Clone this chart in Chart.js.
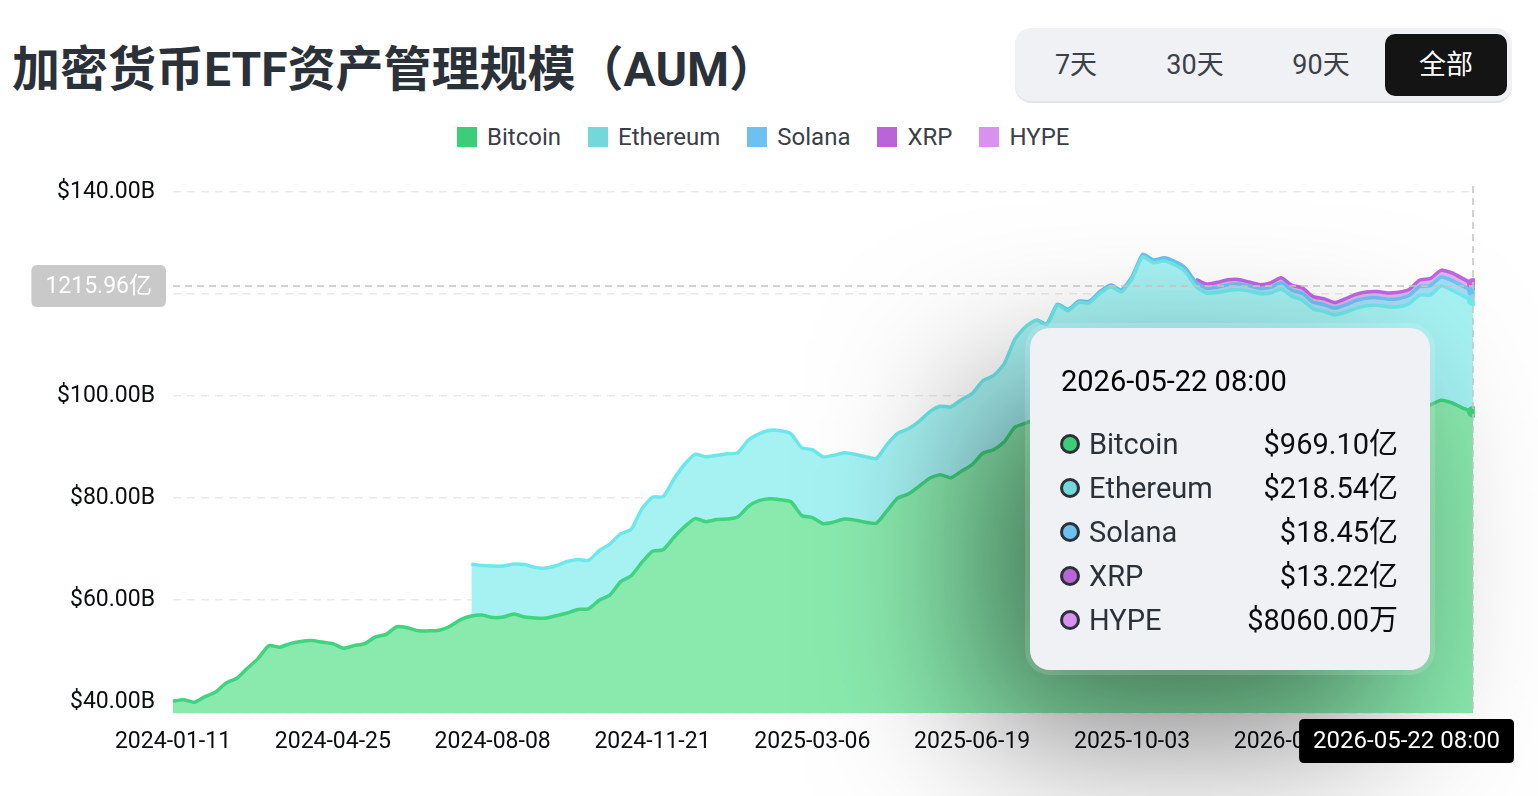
<!DOCTYPE html>
<html>
<head>
<meta charset="utf-8">
<script src="https://cdn.jsdelivr.net/npm/chart.js@4.4.1/dist/chart.umd.min.js"></script>
<style>
html,body{margin:0;padding:0;background:#fff;}
body{width:1538px;height:796px;overflow:hidden;position:relative;font-family:Roboto,"Noto Sans CJK SC",sans-serif;}
#title{position:absolute;left:12px;top:46px;font-size:48px;line-height:48px;font-weight:700;color:#2b3139;white-space:nowrap;}
#range{position:absolute;left:1015px;top:28px;width:497px;height:73px;background:#f0f1f5;border-radius:16px;box-shadow:0 2px 0 #e4e5e8;}
.rb{position:absolute;top:6px;width:110px;height:62px;line-height:62px;font-size:27px;color:#3c4148;text-align:center;}
.rb.active{width:122px;background:#141414;color:#fff;border-radius:10px;}
#legend{position:absolute;left:457px;top:123px;display:flex;align-items:center;height:28px;}
.li{display:flex;align-items:center;margin-right:27px;font-size:24px;line-height:28px;color:#3b4048;}
.sw{width:20px;height:20px;margin-right:10px;}
#chartBox{position:absolute;left:0;top:160px;width:1538px;height:636px;}
#tip{position:absolute;display:none;width:400px;height:342px;background:#f0f1f5;border-radius:20px;
  box-shadow:0 0 0 5px rgba(255,255,255,0.14);}
#tip .tt{position:absolute;left:31px;top:36px;line-height:34px;font-size:29px;color:#000;white-space:nowrap;}
#tip .row{position:absolute;left:0;width:400px;height:34px;line-height:34px;font-size:29px;}
#tip .dot{position:absolute;left:30px;top:7px;width:20px;height:20px;box-sizing:border-box;border:3.5px solid #2b3139;border-radius:50%;}
#tip .lab{position:absolute;left:59px;top:0;color:#2b3139;}
#tip .val{position:absolute;right:32px;top:0;color:#0b0e11;}
</style>
</head>
<body>
<div id="title">加密货币ETF资产管理规模（AUM）</div>
<div id="range">
  <div class="rb" style="left:6px">7天</div>
  <div class="rb" style="left:125px">30天</div>
  <div class="rb" style="left:251px">90天</div>
  <div class="rb active" style="left:370px">全部</div>
</div>
<div id="legend"></div>
<div id="chartBox"><canvas id="c" width="1538" height="636"></canvas></div>
<div id="tip"></div>
<script>
// ---------- data ----------
const labels = [
 '2024-01-11','2024-01-18','2024-01-25','2024-02-01','2024-02-08','2024-02-15','2024-02-22','2024-02-29','2024-03-07','2024-03-14',
 '2024-03-21','2024-03-28','2024-04-04','2024-04-11','2024-04-18','2024-04-25','2024-05-02','2024-05-09','2024-05-16','2024-05-23',
 '2024-05-30','2024-06-06','2024-06-13','2024-06-20','2024-06-27','2024-07-04','2024-07-11','2024-07-18','2024-07-25','2024-08-01',
 '2024-08-08','2024-08-15','2024-08-22','2024-08-29','2024-09-05','2024-09-12','2024-09-19','2024-09-26','2024-10-03','2024-10-10',
 '2024-10-17','2024-10-24','2024-10-31','2024-11-07','2024-11-14','2024-11-21','2024-11-28','2024-12-05','2024-12-12','2024-12-19',
 '2024-12-26','2025-01-02','2025-01-09','2025-01-16','2025-01-23','2025-01-30','2025-02-06','2025-02-13','2025-02-20','2025-02-27',
 '2025-03-06','2025-03-13','2025-03-20','2025-03-27','2025-04-03','2025-04-10','2025-04-17','2025-04-24','2025-05-01','2025-05-08',
 '2025-05-15','2025-05-22','2025-05-29','2025-06-05','2025-06-12','2025-06-19','2025-06-27','2025-07-04','2025-07-11','2025-07-18',
 '2025-07-25','2025-08-01','2025-08-08','2025-08-15','2025-08-22','2025-08-29','2025-09-05','2025-09-12','2025-09-19','2025-09-26',
 '2025-10-03','2025-10-10','2025-10-17','2025-10-24','2025-10-31','2025-11-07','2025-11-14','2025-11-21','2025-11-28','2025-12-05',
 '2025-12-12','2025-12-19','2025-12-26','2026-01-02','2026-01-09','2026-01-16','2026-01-23','2026-01-31','2026-02-07','2026-02-15',
 '2026-02-22','2026-03-02','2026-03-09','2026-03-17','2026-03-24','2026-04-01','2026-04-08','2026-04-16','2026-04-23','2026-05-01',
 '2026-05-08','2026-05-15','2026-05-22'
];
const lastTime = '08:00';

// values in billions USD
const bitcoin = [
 40.2,40.5,40.0,41.1,42.0,43.8,44.7,46.7,48.6,51.1,
 50.8,51.5,51.9,52.1,51.8,51.5,50.6,51.1,51.5,52.8,
 53.3,54.8,54.6,54.0,54.0,54.1,54.9,56.2,56.9,57.1,
 56.6,56.7,57.3,56.7,56.5,56.5,57.0,57.5,58.2,58.3,
 60.0,61.0,63.6,64.8,67.4,69.6,69.9,72.3,74.4,76.0,
 75.4,75.8,75.9,76.3,78.4,79.5,79.9,79.7,79.3,76.6,
 76.2,75.0,75.3,75.9,75.7,75.3,75.1,77.5,80.0,80.8,
 82.3,83.9,84.6,84.0,85.3,86.6,88.8,89.5,91.0,93.9,
 94.7,95.35,94.4,97.3,95.95,96.85,96.3,97.7,98.45,97.65,
 99.8,103.3,102.35,103.0,102.55,101.6,99.5,98.6,98.6,98.9,
 99.0,99.0,98.7,98.7,99.2,98.3,97.8,96.5,96.2,95.7,
 96.0,96.6,96.9,97.0,96.8,96.8,97.2,98.3,98.3,99.2,
 98.7,97.7,96.91
];
const ethereumStart = 28;
const ethereum = [
 10.2,9.7,10.1,10.0,9.8,10.3,9.9,9.8,9.8,10.1,
 9.8,9.5,9.7,10.0,9.4,9.1,10.5,10.6,10.4,11.4,
 12.2,12.6,12.7,12.6,12.8,12.6,13.0,13.1,13.4,13.5,
 13.3,13.3,13.3,13.1,13.1,13.0,12.9,12.8,12.7,13.0,
 12.7,12.8,12.7,13.0,13.4,13.9,14.0,13.9,14.2,14.5,
 15.3,17.2,18.9,19.5,19.6,20.5,20.8,21.5,22.0,22.5,
 23.0,22.8,23.2,24.0,23.8,23.5,23.2,22.8,22.0,21.6,
 21.7,21.8,21.9,21.6,21.4,21.5,21.8,21.3,21.0,20.6,
 20.4,20.2,20.4,20.6,20.8,20.8,20.7,20.7,20.9,21.5,
 21.5,22.4,22.1,22.0,21.854
];
const solanaStart = 81;
const solana = [
 0.15,0.2,0.2,0.25,0.25,0.3,0.3,0.35,0.35,0.4,
 0.5,0.55,0.6,0.65,0.7,0.85,0.95,1.05,1.1,1.05,
 1.0,1.0,1.1,1.2,1.15,1.3,1.3,1.35,1.35,1.45,
 1.5,1.5,1.5,1.5,1.6,1.6,1.7,1.85,1.75,1.9,
 1.9,1.845
];
const xrpStart = 96;
const xrp = [
 0.55,0.8,0.95,1.0,0.9,0.75,0.75,0.9,1.0,0.95,
 1.1,1.1,1.15,1.1,1.2,1.25,1.2,1.2,1.2,1.25,
 1.2,1.25,1.4,1.3,1.45,1.45,1.322
];
const hypeStart = 119;
const hype = [0.05,0.07,0.08,0.0806];

const seriesNames = ['Bitcoin','Ethereum','Solana','XRP','HYPE'];
const lineColors  = ['#3fd47e','#6de8ea','#6cc3f2','#c166e0','#de92f5'];
const fillColors  = ['#8aeaae','#a6f2f3','#a8daf6','#dcb2f0','#f0cafa'];
const legendColors= ['#3dcc7a','#72d8d9','#6cc1ee','#b964d8','#d991f0'];

const yTicks = [40,60,80,100,120,140];
const yMin = 37.9, yMax = 140;
const xTickIdx = [0,15,30,45,60,75,90,105];
const pointerValue = 121.596;   // cursor position on the y axis (B)
const activeIndex = labels.length - 1;

// ---------- helpers ----------
function place(values, start){ return labels.map((_, i) => (i >= start && i - start < values.length) ? values[i - start] : null); }
function fmtCN(vB){
  if (vB >= 0.1) return '$' + (vB * 10).toFixed(2) + '亿';
  return '$' + (vB * 100000).toFixed(2) + '万';
}
function rr(ctx, x, y, w, h, r){
  ctx.beginPath();
  ctx.moveTo(x + r, y); ctx.lineTo(x + w - r, y); ctx.quadraticCurveTo(x + w, y, x + w, y + r);
  ctx.lineTo(x + w, y + h - r); ctx.quadraticCurveTo(x + w, y + h, x + w - r, y + h);
  ctx.lineTo(x + r, y + h); ctx.quadraticCurveTo(x, y + h, x, y + h - r);
  ctx.lineTo(x, y + r); ctx.quadraticCurveTo(x, y, x + r, y); ctx.closePath();
}

// legend
const lg = document.getElementById('legend');
seriesNames.forEach((n, i) => {
  const d = document.createElement('div'); d.className = 'li';
  d.innerHTML = '<span class="sw" style="background:' + legendColors[i] + '"></span>' + n;
  lg.appendChild(d);
});

const seriesData = [place(bitcoin, 0), place(ethereum, ethereumStart), place(solana, solanaStart), place(xrp, xrpStart), place(hype, hypeStart)];

const FONT = 'Roboto, "Noto Sans CJK SC", sans-serif';
Chart.defaults.font.family = FONT;

const TIP_W = 400, TIP_H = 342, TIP_DX = -443, TIP_DY = 136;

const crosshair = {
  id: 'crosshair',
  afterDraw(chart){
    const {ctx, chartArea: a, scales: {x, y}} = chart;
    const px = x.getPixelForValue(activeIndex);
    const py = y.getPixelForValue(pointerValue);
    ctx.save();
    // soft shadow cast by the tooltip card
    const tx = px + TIP_DX, ty = a.top + TIP_DY;
    ctx.shadowColor = 'rgba(0,0,0,0.52)';
    ctx.shadowBlur = 160;
    ctx.shadowOffsetX = -50 + 6000;
    ctx.shadowOffsetY = 62;
    rr(ctx, tx - 6000, ty, TIP_W, TIP_H, 20);
    ctx.fillStyle = '#000'; ctx.fill();
    ctx.shadowColor = 'transparent'; ctx.shadowBlur = 0; ctx.shadowOffsetX = 0; ctx.shadowOffsetY = 0;

    ctx.setLineDash([7, 5]); ctx.lineWidth = 1.5; ctx.strokeStyle = '#c4c4c4';
    ctx.beginPath(); ctx.moveTo(px, a.top - 6); ctx.lineTo(px, a.bottom); ctx.stroke();
    ctx.beginPath(); ctx.moveTo(a.left, py); ctx.lineTo(px, py); ctx.stroke();
    ctx.setLineDash([]);
    ctx.font = '23px ' + FONT;
    ctx.textAlign = 'center'; ctx.textBaseline = 'middle';
    // y pointer label
    const yt = (pointerValue * 10).toFixed(2) + '亿';
    const yw = ctx.measureText(yt).width + 28;
    const yr = a.left - 7;
    rr(ctx, yr - yw, py - 21, yw, 42, 6); ctx.fillStyle = '#c9c9c9'; ctx.fill();
    ctx.fillStyle = '#fff'; ctx.fillText(yt, yr - yw / 2, py + 1);
    // x pointer label
    ctx.font = '24px ' + FONT;
    const xt = labels[activeIndex] + ' ' + lastTime;
    const xw = ctx.measureText(xt).width + 28;
    const xl = Math.min(px - xw / 2, chart.width - 24 - xw);
    rr(ctx, xl, a.bottom + 6, xw, 44, 5); ctx.fillStyle = '#000'; ctx.fill();
    ctx.fillStyle = '#fff'; ctx.fillText(xt, xl + xw / 2, a.bottom + 29);
    ctx.restore();
  }
};

function externalTip({chart, tooltip}){
  const tip = document.getElementById('tip');
  if (!tooltip || tooltip.opacity === 0 || !tooltip.dataPoints || !tooltip.dataPoints.length){ tip.style.display = 'none'; return; }
  const pts = tooltip.dataPoints;
  let html = '<div class="tt">' + labels[pts[0].dataIndex] + ' ' + lastTime + '</div>';
  pts.forEach((p, k) => {
    const top = 99 + k * 44;
    html += '<div class="row" style="top:' + top + 'px"><span class="dot" style="background:' + legendColors[p.datasetIndex] + '"></span>' +
            '<span class="lab">' + p.dataset.label + '</span><span class="val">' + fmtCN(p.raw) + '</span></div>';
  });
  tip.innerHTML = html;
  const box = document.getElementById('chartBox');
  tip.style.left = (box.offsetLeft + tooltip.caretX + TIP_DX) + 'px';
  tip.style.top = (box.offsetTop + chart.chartArea.top + TIP_DY) + 'px';
  tip.style.display = 'block';
}

const datasets = seriesNames.map((n, i) => ({
  label: n,
  data: seriesData[i],
  borderColor: lineColors[i],
  backgroundColor: fillColors[i],
  borderWidth: 3.5,
  fill: i === 0 ? 'start' : '-1',
  tension: 0.2,
  pointRadius: 0,
  pointHoverRadius: 5,
  pointHoverBorderWidth: 2,
  pointHoverBackgroundColor: lineColors[i],
  pointHoverBorderColor: lineColors[i],
  spanGaps: false
}));

const chart = new Chart(document.getElementById('c'), {
  type: 'line',
  data: { labels, datasets },
  plugins: [crosshair],
  options: {
    responsive: false,
    animation: false,
    events: [],
    layout: { padding: { top: 32, right: 65, left: 0, bottom: 0 } },
    interaction: { mode: 'index', intersect: false },
    plugins: {
      legend: { display: false },
      tooltip: { enabled: false, external: externalTip, position: 'average' }
    },
    scales: {
      x: {
        type: 'category',
        grid: { display: false },
        border: { display: false },
        afterBuildTicks: s => { s.ticks = xTickIdx.map(v => ({ value: v })); },
        afterFit: s => { s.height = 83; },
        ticks: { autoSkip: false, maxRotation: 0, padding: 7, color: '#0b0e11', font: { size: 23 } }
      },
      y: {
        stacked: true,
        min: yMin, max: yMax,
        z: 1,
        grid: { color: 'rgba(222,222,222,0.65)', lineWidth: 1.5, drawTicks: false },
        border: { display: false, dash: [8, 6] },
        afterBuildTicks: s => { s.ticks = [yMin].concat(yTicks).map(v => ({ value: v })); },
        afterFit: s => { s.width = 173; },
        ticks: {
          padding: 18, color: '#0b0e11', font: { size: 23 },
          callback: v => yTicks.includes(v) ? '$' + v.toFixed(2) + 'B' : ''
        }
      }
    }
  }
});

const active = datasets.map((d, i) => ({ datasetIndex: i, index: activeIndex }));
chart.setActiveElements(active);
const meta = chart.getDatasetMeta(0);
chart.tooltip.setActiveElements(active, { x: meta.data[activeIndex].x, y: chart.scales.y.getPixelForValue(pointerValue) });
chart.update();
</script>
</body>
</html>
